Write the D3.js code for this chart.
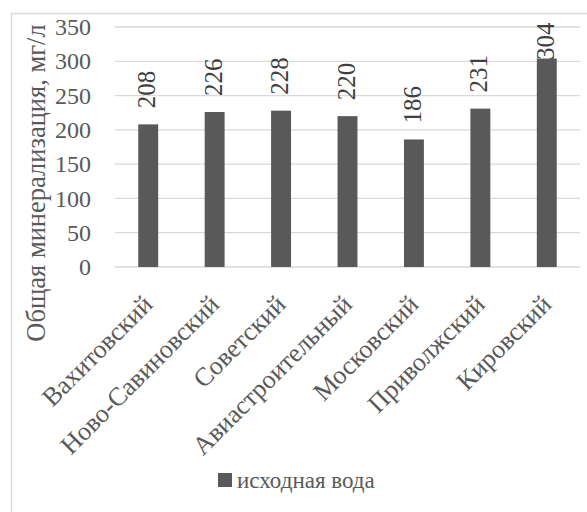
<!DOCTYPE html>
<html>
<head>
<meta charset="utf-8">
<script src="https://cdn.jsdelivr.net/npm/d3@7"></script>
</head>
<body style="margin:0;background:#fff">
<svg width="587" height="512"></svg>
<script>
var CATEGORIES = ['Вахитовский','Ново-Савиновский','Советский','Авиастроительный','Московский','Приволжский','Кировский'];
var VALUES = [208, 226, 228, 220, 186, 231, 304];
var Y_TICKS = [0, 50, 100, 150, 200, 250, 300, 350];
var SERIES_NAME = 'исходная вода';
var AXIS_TITLE = 'Общая минерализация, мг/л';

var FONT = 'Liberation Serif';
var svg = d3.select('svg');
var plotL = 115, plotR = 580, plotT = 27, plotB = 267;

// outer chart border (runs off the right/bottom edge)
svg.append('rect').attr('x', 11.5).attr('y', 13.5).attr('width', 600).attr('height', 600)
	.attr('fill', 'none').attr('stroke', '#d9d9d9').attr('stroke-width', 1.5);

var x = d3.scaleBand().domain(CATEGORIES).range([plotL, plotR]).paddingInner(0.7).paddingOuter(0.35);
var y = d3.scaleLinear().domain([0, 350]).range([plotB, plotT]);

// grid
svg.append('g').selectAll('line').data(Y_TICKS).enter().append('line')
	.attr('x1', plotL).attr('x2', plotR)
	.attr('y1', function(d){ return y(d); }).attr('y2', function(d){ return y(d); })
	.attr('stroke', '#d9d9d9').attr('stroke-width', 1.3);

// y axis labels
var yAxis = svg.append('g').attr('transform', 'translate(91,0)')
	.call(d3.axisLeft(y).tickValues(Y_TICKS).tickSize(0).tickPadding(0));
yAxis.select('.domain').remove();
yAxis.attr('font-family', FONT).attr('font-size', 24);
yAxis.selectAll('text').attr('fill', '#595959');

// bars
svg.append('g').selectAll('rect').data(VALUES).enter().append('rect')
	.attr('x', function(d, i){ return x(CATEGORIES[i]); })
	.attr('width', x.bandwidth())
	.attr('y', function(d){ return y(d); })
	.attr('height', function(d){ return plotB - y(d); })
	.attr('fill', '#595959');

// value labels, rotated (304 gets pushed down so it stays inside)
svg.append('g').attr('font-family', FONT).attr('font-size', 25)
	.selectAll('text').data(VALUES).enter().append('text')
	.attr('transform', function(d, i){
		var cx = x(CATEGORIES[i]) + x.bandwidth() / 2 + 7;
		var sy = Math.max(y(d) - 16, 60);
		return 'translate(' + cx + ',' + sy + ') rotate(-90)';
	})
	.attr('fill', '#404040')
	.text(function(d){ return d; });

// category labels
var xAxis = svg.append('g').attr('transform', 'translate(0,306)')
	.call(d3.axisBottom(x).tickSize(0).tickPadding(0));
xAxis.select('.domain').remove();
xAxis.attr('font-family', FONT).attr('font-size', 26);
xAxis.selectAll('text')
	.attr('fill', '#595959')
	.attr('text-anchor', 'end')
	.attr('y', 0)
	.attr('dy', 0)
	.attr('transform', 'translate(6,0) rotate(-45)');

// axis title
svg.append('text')
	.attr('transform', 'translate(45,183) rotate(-90)')
	.attr('text-anchor', 'middle')
	.attr('font-family', FONT).attr('font-size', 26.5)
	.attr('fill', '#595959')
	.text(AXIS_TITLE);

// legend
svg.append('rect').attr('x', 218).attr('y', 473).attr('width', 14).attr('height', 14).attr('fill', '#595959');
svg.append('text').attr('x', 237).attr('y', 488).attr('fill', '#595959')
	.attr('font-family', FONT).attr('font-size', 23).text(SERIES_NAME);
</script>
</body>
</html>
